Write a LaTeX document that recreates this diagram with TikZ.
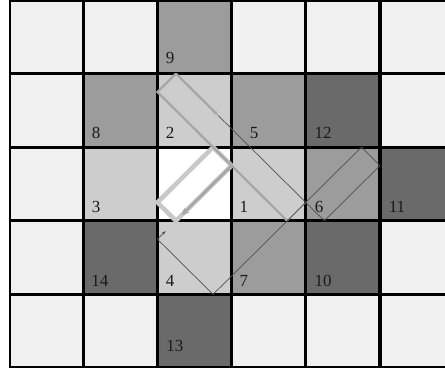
\documentclass[tikz,border=0pt]{standalone}
\usepackage{fontspec}
\setmainfont{Liberation Serif}
\usetikzlibrary{arrows.meta}
\definecolor{cL}{HTML}{F0F0F0}
\definecolor{cM}{HTML}{9C9C9C}
\definecolor{cP}{HTML}{CDCDCD}
\definecolor{cD}{HTML}{6A6A6A}
\definecolor{cW}{HTML}{FFFFFF}
\definecolor{cBarA}{HTML}{A6A6A6}
\definecolor{cBarB}{HTML}{C8C8C8}
\definecolor{cThin}{HTML}{505050}
\definecolor{cTxt}{HTML}{1A1A1A}
\begin{document}
\begin{tikzpicture}[x=74.2pt,y=-73.6pt,
  cell/.style={draw=black,line width=1.6pt},
  lbl/.style={font=\fontsize{17}{17}\selectfont,inner sep=0pt,text=cTxt},
  thinline/.style={draw=cThin,line width=0.7pt},
  barA/.style={draw=cBarA,line width=2.2pt},
  barB/.style={draw=cBarB,line width=4.5pt,line join=miter},
]
\useasboundingbox[fill=white] (-0.1213,0) rectangle (5.876,5.041);
\begin{scope}
\clip (-0.1213,0) rectangle (5.876,5.041);
\foreach \c/\r/\col in {
  0/0/cL,1/0/cL,2/0/cM,3/0/cL,4/0/cL,5/0/cL,
  0/1/cL,1/1/cM,2/1/cP,3/1/cM,4/1/cD,5/1/cL,
  0/2/cL,1/2/cP,2/2/cW,3/2/cP,4/2/cM,5/2/cD,
  0/3/cL,1/3/cD,2/3/cP,3/3/cM,4/3/cD,5/3/cL,
  0/4/cL,1/4/cL,2/4/cD,3/4/cL,4/4/cL,5/4/cL}
  {\filldraw[cell,fill=\col] (\c+0.011,\r+0.011) rectangle (\c+0.989,\r+0.989);}

% bar coordinates
\coordinate (A1) at (2.25,1.0);
\coordinate (A2) at (2.0,1.25);
\coordinate (A3) at (3.75,3.0);
\coordinate (A4) at (4.0,2.75);
\coordinate (Am) at (2.82,1.57);
\coordinate (B1) at (2.0,2.75);
\coordinate (B2) at (2.25,3.0);
\coordinate (B3) at (3.0,2.25);
\coordinate (B4) at (2.75,2.0);
\coordinate (Bm) at (2.33,2.92);
\coordinate (D2) at (4.75,2.0);
\coordinate (D3) at (5.0,2.25);
\coordinate (D4) at (4.25,3.0);
\coordinate (C1) at (2.0,3.25);
\coordinate (C2) at (2.75,4.0);
\coordinate (Cm) at (2.11,3.14);

% bar B (thick light outline) with arrow
\draw[barB] (B1) -- (B2) -- (B3) -- (B4) -- cycle;
\draw[draw=cBarA,line width=2.6pt,-{Stealth[length=7pt,width=7pt]}] (B3) -- (Bm);

% bar A (gray outline)
\draw[barA] (A1) -- (A2) -- (A3);
\draw[draw=cBarA,line width=1pt] (A3) -- (A4);
\draw[barA,-{Stealth[length=5pt,width=4pt]}] (A1) -- (Am);

% thin lines
\draw[thinline] (Am) -- (A4) -- (D4);
\draw[thinline] (C2) -- (A3) -- (A4) -- (D2) -- (D3) -- (D4);
\draw[thinline] (C1) -- (C2);
\draw[thinline,-{Stealth[length=4pt,width=3pt]}] (C1) -- (Cm);
\end{scope}

% labels
\node[lbl] (n9)  at (2.170,0.788) {9};
\node[lbl] (n8)  at (1.173,1.807) {8};
\node[lbl] (n2)  at (2.170,1.807) {2};
\node[lbl] (n5)  at (3.302,1.807) {5};
\node[lbl] (n12) at (4.232,1.807) {12};
\node[lbl] (n3)  at (1.173,2.813) {3};
\node[lbl] (n1)  at (3.167,2.813) {1};
\node[lbl] (n6)  at (4.178,2.813) {6};
\node[lbl] (n11) at (5.229,2.813) {11};
\node[lbl] (n14) at (1.226,3.818) {14};
\node[lbl] (n4)  at (2.170,3.818) {4};
\node[lbl] (n7)  at (3.167,3.818) {7};
\node[lbl] (n10) at (4.232,3.818) {10};
\node[lbl] (n13) at (2.237,4.701) {13};
\end{tikzpicture}
\end{document}
